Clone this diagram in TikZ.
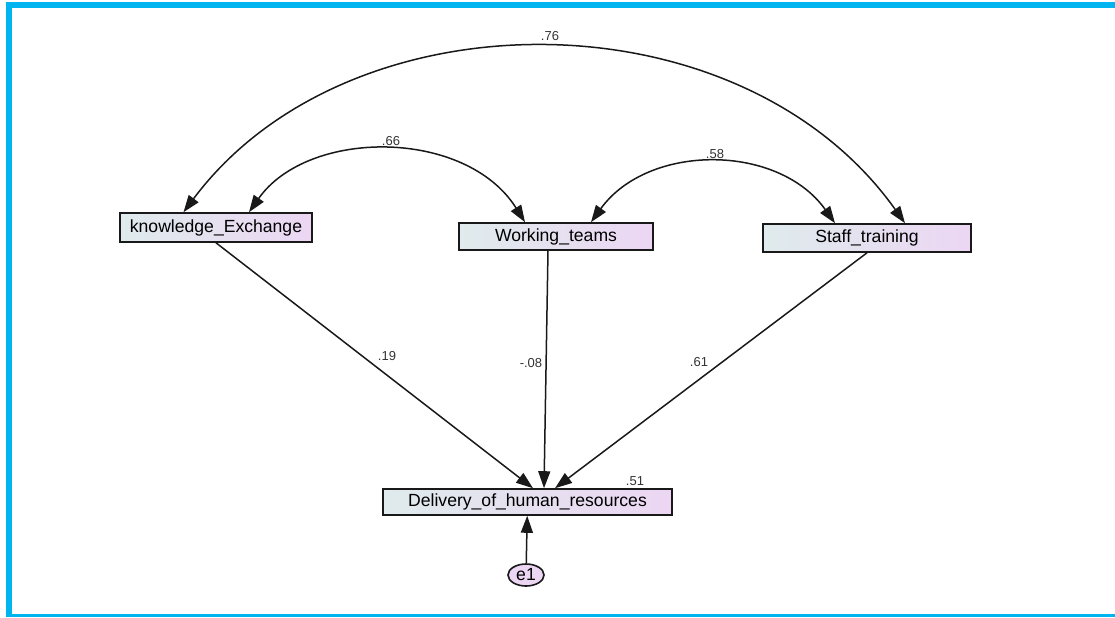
\documentclass[tikz,border=0pt]{standalone}
\usepackage{fontspec}
\setmainfont{Liberation Sans}
\usetikzlibrary{arrows.meta,calc,shapes.geometric}
\definecolor{framecyan}{RGB}{0,180,240}
\definecolor{boxleft}{RGB}{223,235,236}
\definecolor{boxright}{RGB}{236,214,243}
\tikzset{
	varbox/.style={draw=black!90, line width=0.8pt, left color=boxleft, right color=boxright, inner sep=0pt, font=\fontsize{8.8}{10}\selectfont},
	errnode/.style={ellipse, draw=black!90, line width=0.8pt, fill=boxright, minimum width=18pt, minimum height=11pt, inner sep=0pt, font=\fontsize{8.8}{10}\selectfont},
	regline/.style={-{Triangle[length=8.5pt,width=6pt]}, line width=0.75pt, black!90},
	covline/.style={{Triangle[length=8.5pt,width=6pt]}-{Triangle[length=8.5pt,width=6pt]}, line width=0.75pt, black!90},
	coef/.style={inner sep=0pt, text=black!80, font=\fontsize{6.5}{8}\selectfont}
}

\begin{document}
\begin{tikzpicture}[x=0.5pt, y=-0.5pt]
			%%%%% START %%%%%
			\useasboundingbox (0, 0) rectangle (1115, 617);
			
			% frame
			\fill[framecyan] (6, 2) rectangle (1115, 7.5);
			\fill[framecyan] (6, 2) rectangle (12.3, 617);
			\fill[framecyan] (6, 613.5) rectangle (1115, 617);
			
			% observed variables
			\node[varbox, minimum width=96pt, minimum height=14.5pt] (kx) at (216, 227.5) {knowledge\_Exchange};
			\node[varbox, minimum width=97pt, minimum height=13.5pt] (wt) at (556, 236.5) {Working\_teams};
			\node[varbox, minimum width=104pt, minimum height=14pt] (st) at (867, 238) {Staff\_training};
			\node[varbox, minimum width=144.5pt, minimum height=13pt] (dhr) at (527.5, 502) {Delivery\_of\_human\_resources};
			\node[errnode] (e1) at (526, 575) {e1};
			
			% regression paths
			\draw[regline] (kx.south) -- ($(dhr.north)+(5.5, 0)$);
			\draw[regline] ($(wt.south)+(-8, 0)$) -- ($(dhr.north)+(16.5, 0)$);
			\draw[regline] (st.south) -- ($(dhr.north)+(27.5, 0)$);
			\draw[regline] (e1) -- (dhr);
			
			% covariances
			\draw[covline] ($(kx.north)+(-32.5, 0)$) .. controls +(165, -221) and +(-165, -232) .. ($(st.north)+(38, 0)$);
			\draw[covline] ($(kx.north)+(33, 0)$) .. controls +(59, -84) and +(-59, -94) .. ($(wt.north)+(-31, 0)$);
			\draw[covline] ($(wt.north)+(35, 0)$) .. controls +(57, -79) and +(-57, -80) .. ($(st.north)+(-32, 0)$);
			
			% estimates
			\node[coef] (c76) at (550, 36) {.76};
			\node[coef] (c66) at (391, 141) {.66};
			\node[coef] (c58) at (715, 154) {.58};
			\node[coef] (c19) at (387, 356) {.19};
			\node[coef] (c08) at (531, 363.5) {-.08};
			\node[coef] (c61) at (699, 362) {.61};
			\node[coef] (c51) at (635, 481) {.51};
			
			%%%%% END %%%%%
\end{tikzpicture}
\end{document}
